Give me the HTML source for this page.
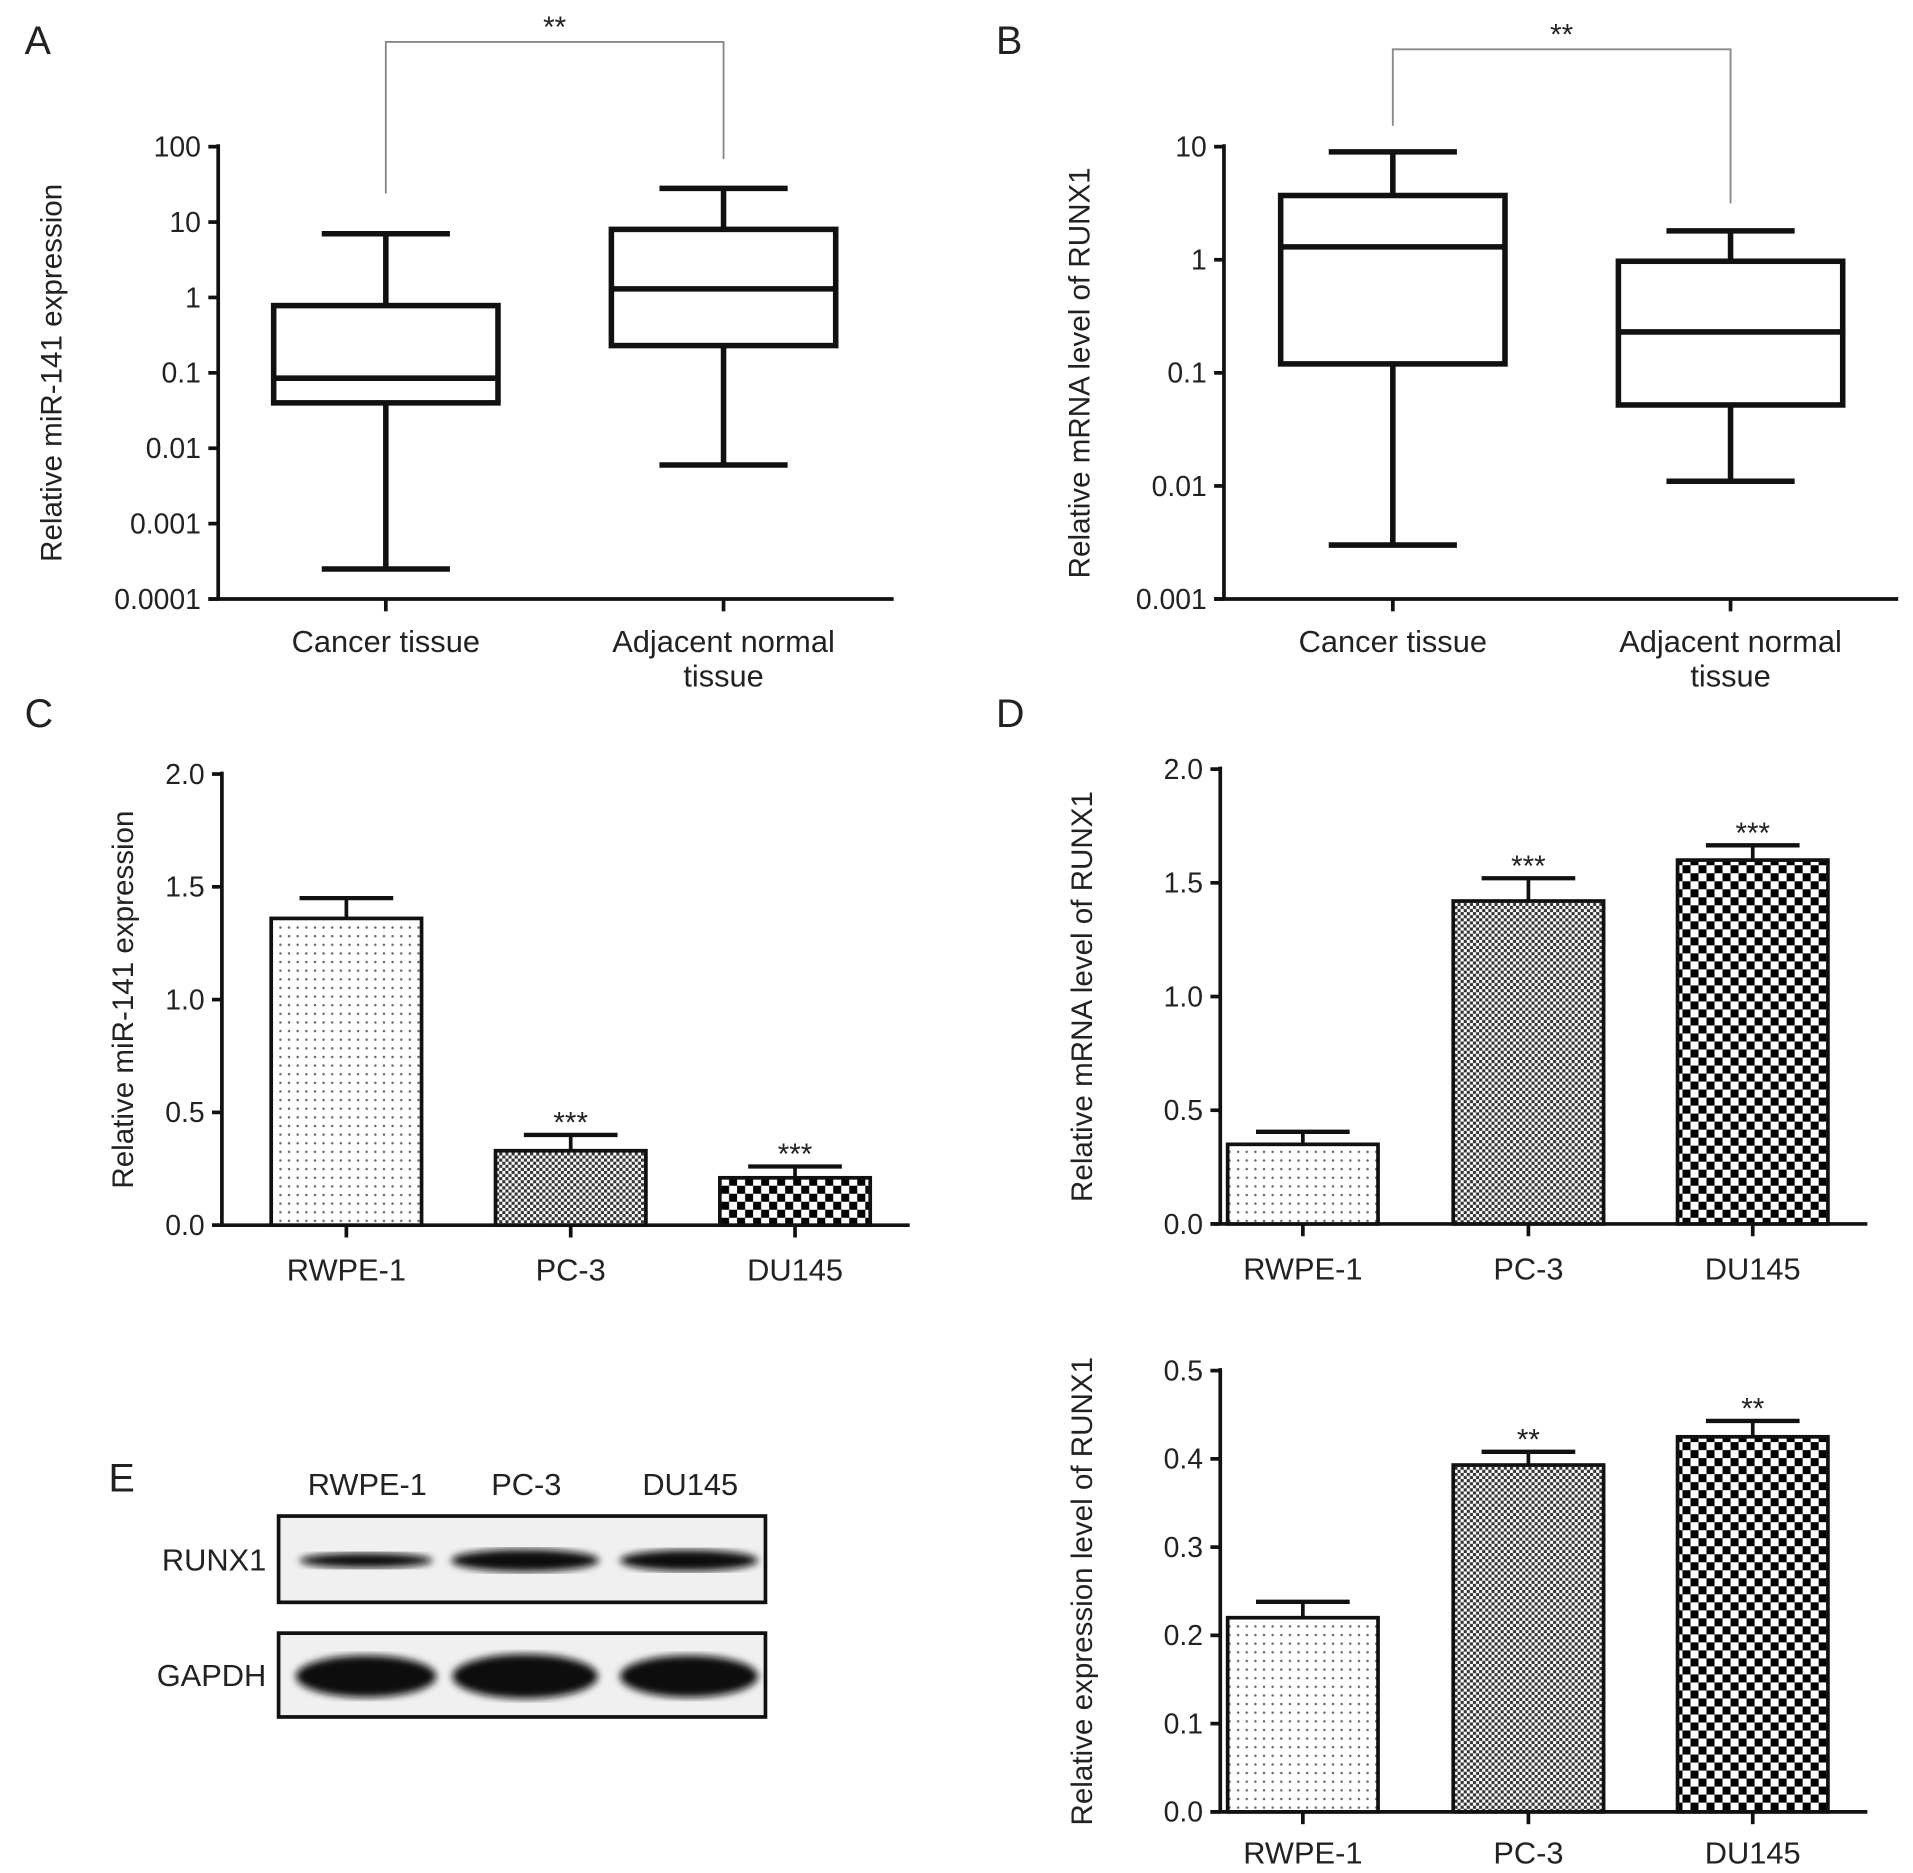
<!DOCTYPE html>
<html><head><meta charset="utf-8"><style>
html,body{margin:0;padding:0;background:#fff}
svg{display:block}
text{font-family:"Liberation Sans",Arial,sans-serif;fill:#222}
</style></head><body>
<svg id="fig" width="1913" height="1873" viewBox="0 0 1552 1519.6" xmlns="http://www.w3.org/2000/svg">
<defs>
<pattern id="pDots" patternUnits="userSpaceOnUse" width="7" height="7"><rect width="7" height="7" fill="#fff"/><circle cx="3.5" cy="3.5" r="1" fill="#666"/></pattern>
<pattern id="pFine" patternUnits="userSpaceOnUse" width="5" height="5"><rect width="5" height="5" fill="#fff"/><rect width="2.5" height="2.5" fill="#333"/><rect x="2.5" y="2.5" width="2.5" height="2.5" fill="#333"/></pattern>
<pattern id="pCoarse" patternUnits="userSpaceOnUse" width="13" height="13"><rect width="13" height="13" fill="#fff"/><rect width="6.5" height="6.5" fill="#000"/><rect x="6.5" y="6.5" width="6.5" height="6.5" fill="#000"/></pattern>
<filter id="blur"><feGaussianBlur stdDeviation="3"/></filter>
</defs>
<g id="root"></g>
</svg>
<script>
// ---- Data ----
var boxCats = ["Cancer tissue", "Adjacent normal|tissue"];
var boxA_min = [0.00025, 0.006];
var boxA_q1 = [0.04, 0.23];
var boxA_med = [0.085, 1.3];
var boxA_q3 = [0.78, 8];
var boxA_max = [7, 28];
var boxA_ticks = ["0.0001","0.001","0.01","0.1","1","10","100"];
var boxB_min = [0.003, 0.011];
var boxB_q1 = [0.12, 0.052];
var boxB_med = [1.3, 0.23];
var boxB_q3 = [3.7, 0.97];
var boxB_max = [9, 1.8];
var boxB_ticks = ["0.001","0.01","0.1","1","10"];
var barCats = ["RWPE-1","PC-3","DU145"];
var barC_vals = [1.36, 0.33, 0.21];
var barC_err = [0.09, 0.07, 0.05];
var barC_sig = ["", "***", "***"];
var barD_vals = [0.35, 1.42, 1.60];
var barD_err = [0.055, 0.10, 0.065];
var barD_sig = ["", "***", "***"];
var barE_vals = [0.22, 0.393, 0.425];
var barE_err = [0.018, 0.015, 0.018];
var barE_sig = ["", "**", "**"];
var ticks2 = ["0.0","0.5","1.0","1.5","2.0"];
var ticks05 = ["0.0","0.1","0.2","0.3","0.4","0.5"];

var NS="http://www.w3.org/2000/svg";
var root=document.getElementById('root');
function el(tag,attrs,parent){var e=document.createElementNS(NS,tag);for(var k in attrs)e.setAttribute(k,attrs[k]);(parent||root).appendChild(e);return e;}
function txt(s,x,y,size,anchor,parent,extra){var t=el('text',Object.assign({x:x,y:y,'font-size':size,'text-anchor':anchor||'middle'},extra||{}),parent);t.textContent=s;return t;}

function boxPanel(o){
  var g=el('g',{});
  
  
  var nT=o.ticks.length;
  function y(v){var lv=Math.log10(v);return o.y0+(lv-o.lmin)/(o.lmax-o.lmin)*(o.y1-o.y0);}
  var ax=el('line',{x1:o.ax,y1:o.y1-2,x2:o.ax,y2:o.y0+1,stroke:'#111','stroke-width':3},g);
  
  
  var xa=el('line',{x1:o.ax-8,y1:o.y0,x2:o.xEnd,y2:o.y0,stroke:'#111','stroke-width':3},g);
  
  
  for(var i=0;i<nT;i++){
    var v=o.lmin+i, yy=y(Math.pow(10,v));
    el('line',{x1:o.ax-8,y1:yy,x2:o.ax,y2:yy,stroke:'#111','stroke-width':3},g);
    var t=txt(o.ticks[i],o.ax-14,yy+8,23,'end',g);
    
    
  }
  for(var j=0;j<2;j++){
    var cx=o.cx[j], hw=91, cw=52;
    el('line',{x1:cx,y1:o.y0,x2:cx,y2:o.y0+10,stroke:'#111','stroke-width':3},g);
    var bg=el('g',{fill:'none',stroke:'#111','stroke-width':4.5},g);
    
    
    el('line',{x1:cx,y1:y(o.max[j]),x2:cx,y2:y(o.q3[j])},bg);
    el('line',{x1:cx,y1:y(o.q1[j]),x2:cx,y2:y(o.min[j])},bg);
    el('line',{x1:cx-cw,y1:y(o.max[j]),x2:cx+cw,y2:y(o.max[j])},bg);
    el('line',{x1:cx-cw,y1:y(o.min[j]),x2:cx+cw,y2:y(o.min[j])},bg);
    el('rect',{x:cx-hw,y:y(o.q3[j]),width:2*hw,height:y(o.q1[j])-y(o.q3[j])},bg);
    el('line',{x1:cx-hw,y1:y(o.med[j]),x2:cx+hw,y2:y(o.med[j])},bg);
    var parts=boxCats[j].split('|');
    for(var p=0;p<parts.length;p++){
      var t2=txt(parts[p],cx,o.y0+43+p*28,25,'middle',g);
      
      
    }
  }
  var br=el('polyline',{points:o.cx[0]+','+o.brL+' '+o.cx[0]+','+o.brTop+' '+o.cx[1]+','+o.brTop+' '+o.cx[1]+','+o.brR,fill:'none',stroke:'#888','stroke-width':1.5},g);
  
  
  var s=txt('**',(o.cx[0]+o.cx[1])/2,o.brTop-4,24,'middle',g,{fill:'#777'});
  
  
  var yl=txt(o.ylabel,0,0,24,'middle',g,{transform:'translate('+o.ylx+','+((o.y0+o.y1)/2)+') rotate(-90)'});
  
  
  var pl=txt(o.letter,o.lx,o.ly,32,'start',g,{fill:'#111'});
  
  
}

function barPanel(o){
  var g=el('g',{});
  
  
  function y(v){return o.y0-v/o.vmax*(o.y0-o.y1);}
  var ax=el('line',{x1:o.ax,y1:o.y1-2,x2:o.ax,y2:o.y0+1,stroke:'#111','stroke-width':3},g);
  
  
  var xa=el('line',{x1:o.ax-8,y1:o.y0,x2:o.xEnd,y2:o.y0,stroke:'#111','stroke-width':3},g);
  
  
  for(var i=0;i<o.ticks.length;i++){
    var v=parseFloat(o.ticks[i]), yy=y(v);
    el('line',{x1:o.ax-8,y1:yy,x2:o.ax,y2:yy,stroke:'#111','stroke-width':3},g);
    var t=txt(o.ticks[i],o.ax-14,yy+8,23,'end',g);
    
    
  }
  var fills=['url(#pDots)','url(#pFine)','url(#pCoarse)'];
  for(var j=0;j<barCats.length;j++){
    var cx=o.cx[j], hw=61;
    var top=y(o.vals[j]), et=y(o.vals[j]+o.err[j]);
    el('line',{x1:cx,y1:o.y0,x2:cx,y2:o.y0+10,stroke:'#111','stroke-width':3},g);
    el('line',{x1:cx,y1:et,x2:cx,y2:top,stroke:'#111','stroke-width':3},g);
    el('line',{x1:cx-38,y1:et,x2:cx+38,y2:et,stroke:'#111','stroke-width':3.5},g);
    var b=el('rect',{x:cx-hw,y:top,width:2*hw,height:o.y0-top,fill:fills[j],stroke:'#111','stroke-width':3},g);
    
    
    if(o.sig[j]){
      var s=txt(o.sig[j],cx,et-2,24,'middle',g,{fill:'#777'});
      
      
    }
    var l=txt(barCats[j],cx,o.y0+(o.lblOff||45),25,'middle',g);
    
    
  }
  var yl=txt(o.ylabel,0,0,24,'middle',g,{transform:'translate('+o.ylx+','+((o.y0+o.y1)/2)+') rotate(-90)'});
  
  
  if(o.letter){
    var pl=txt(o.letter,o.lx,o.ly,32,'start',g,{fill:'#111'});
    
    
  }
}

boxPanel({name:'panel-a',ax:177,y0:486,y1:119,lmin:-4,lmax:2,xEnd:725,cx:[313,587],min:boxA_min,q1:boxA_q1,med:boxA_med,q3:boxA_q3,max:boxA_max,ticks:boxA_ticks,brL:157,brTop:34,brR:129,ylabel:'Relative miR-141 expression',ylx:50,letter:'A',lx:20,ly:44});
boxPanel({name:'panel-b',ax:993,y0:486,y1:119,lmin:-3,lmax:1,xEnd:1540,cx:[1130,1404],min:boxB_min,q1:boxB_q1,med:boxB_med,q3:boxB_q3,max:boxB_max,ticks:boxB_ticks,brL:102,brTop:40,brR:165,ylabel:'Relative mRNA level of RUNX1',ylx:884,letter:'B',lx:808,ly:44});
barPanel({name:'panel-c',ax:180,y0:994,y1:628,vmax:2,xEnd:738,cx:[281,463,645],vals:barC_vals,err:barC_err,sig:barC_sig,ticks:ticks2,ylabel:'Relative miR-141 expression',ylx:108,letter:'C',lx:20,ly:590});
barPanel({name:'panel-d',ax:990,y0:993,y1:624,vmax:2,xEnd:1515,cx:[1057,1240,1422],vals:barD_vals,err:barD_err,sig:barD_sig,ticks:ticks2,ylabel:'Relative mRNA level of RUNX1',ylx:886,letter:'D',lx:808,ly:590});
barPanel({name:'panel-e-quantification',ax:990,y0:1470,y1:1112,vmax:0.5,xEnd:1515,cx:[1057,1240,1422],vals:barE_vals,err:barE_err,sig:barE_sig,ticks:ticks05,ylabel:'Relative expression level of RUNX1',ylx:886,lblOff:42});

// Western blot
var wb=el('g',{});


var eL=txt('E',88,1210,32,'start',wb,{fill:'#111'});


var laneX=[298,427,560];
for(var i=0;i<3;i++){
  var h=txt(barCats[i],laneX[i],1213,25,'middle',wb);
  
  
}
var rows=[{n:'RUNX1',y:1230,h:70,bw:[108,120,112],bh:[12,18,17]},{n:'GAPDH',y:1325,h:68,bw:[114,118,112],bh:[34,36,34]}];
rows.forEach(function(r){
  var fr=el('rect',{x:226,y:r.y,width:395,height:r.h,fill:'#f0f0f0',stroke:'#111','stroke-width':3},wb);
  
  
  for(var i=0;i<3;i++){
    var b=el('ellipse',{cx:laneX[i]-1,cy:r.y+r.h/2+1,rx:r.bw[i]/2,ry:r.bh[i]/2,fill:'#111',filter:'url(#blur)'},wb);
    
    
  }
  var l=txt(r.n,216,r.y+r.h/2+9,25,'end',wb);
  
  
});
</script>
</body></html>
